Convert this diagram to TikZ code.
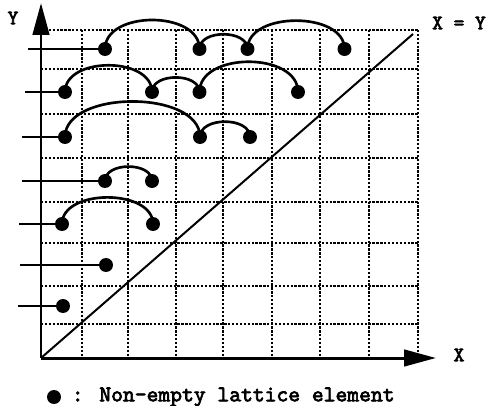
\documentclass[tikz,border=0pt]{standalone}
\usepackage{fontspec}
\newfontfamily\labelfont{lmmono10-regular}[Extension=.otf, FakeBold=3]
\usetikzlibrary{arrows.meta}

\begin{document}
\begin{tikzpicture}[x=0.02cm,y=-0.02cm]
% y is negative: coordinates are taken from the top left corner

% style
\tikzset{
    every node/.style={font=\labelfont\fontsize{11.6}{14}\selectfont},
    baseLine/.style={draw, line width=0.53mm},
    gridLine/.style={draw, line width=0.46mm, dash pattern=on 0.46mm off 0.32mm},
    diagLine/.style={draw, line width=0.4mm},
    axisLine/.style={draw, line width=0.6mm, -{Triangle[length=6.4mm, width=3.3mm]}},
    dotNode/.style={circle, fill, inner sep=0pt, minimum size=2.8mm}
}

\useasboundingbox (0,0) rectangle (491,406);

% grid
\foreach \x in {82,128,176,223,272,320,369,418} {
    \draw[gridLine] (\x,30) -- (\x,358);
}
\foreach \y in {30,69,114,158,202,243,286,324} {
    \draw[gridLine] (41,\y) -- (418,\y);
}

% axes and diagonal
\coordinate (O) at (41,358);
\coordinate (yTip) at (41,3);
\coordinate (xTip) at (436,358);
\coordinate (diagEnd) at (413,34);
\draw[diagLine] (O) -- (diagEnd);
\draw[axisLine] (O) -- (yTip);
\draw[axisLine] (O) -- (xTip);

\node (yLabel) at (13,18) {Y};
\node (xLabel) at (459,355) {X};
\node (diagLabel) at (459,23) {X = Y};

% lattice elements
\foreach \n/\x/\y in {
    8-2/105/49, 8-4/199.5/49, 8-5/247.5/49, 8-7/344.5/49,
    7-1/65/92, 7-3/152/92, 7-4/199.5/92, 7-6/298/92,
    6-1/65/137, 6-4/200/137, 6-5/250/137,
    5-2/105/181, 5-3/152/181,
    4-1/62/224, 4-3/153/224,
    3-2/106/265,
    2-1/63/306
} {
    \node[dotNode] (d\n) at (\x,\y) {};
}

% row entries
\foreach \r/\x/\y/\c in {8/28/49/2, 7/25/92/1, 6/22/137/1, 5/22/181/2, 4/19/224/1, 3/20/265/2, 2/18/306/1} {
    \coordinate (t\r) at (\x,\y);
    \draw[baseLine] (t\r) -- (d\r-\c);
}

% links
\foreach \a/\b/\l in {
    8-2/8-4/1.05, 8-4/8-5/1.05, 8-5/8-7/1.0,
    7-1/7-3/1.05, 7-3/7-4/1.05, 7-4/7-6/1.05,
    6-1/6-4/0.9, 6-4/6-5/1.05,
    5-2/5-3/1.05,
    4-1/4-3/1.0
} {
    \draw[baseLine] (d\a.center) to[out=90, in=90, looseness=\l] (d\b.center);
}

% legend
\node[dotNode] (legendDot) at (54,397) {};
\node[anchor=west, inner sep=0pt, font=\labelfont\fontsize{12.8}{15}\selectfont] (legendText) at (71.5,397) {: Non-empty lattice element};

\end{tikzpicture}
\end{document}
